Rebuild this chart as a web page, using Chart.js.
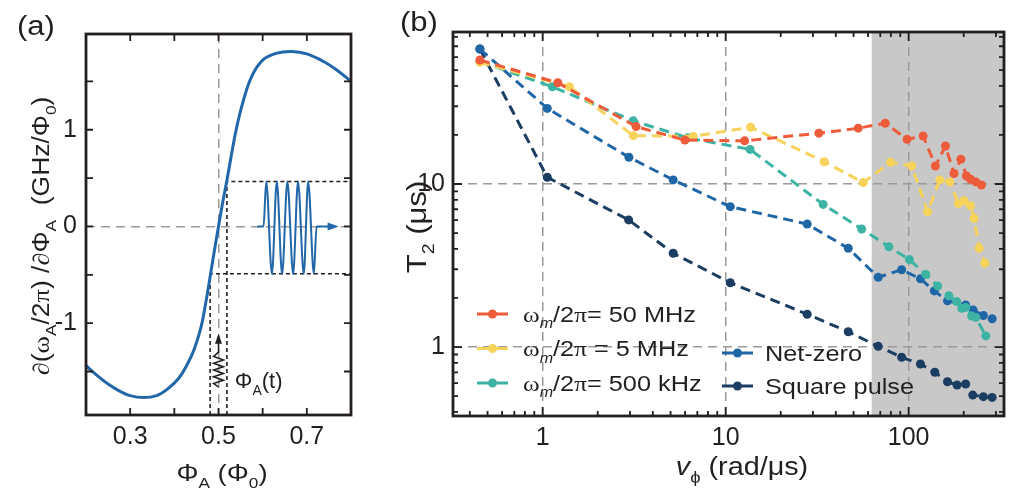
<!DOCTYPE html>
<html lang="en">
<head>
  <meta charset="UTF-8">
  <title>Flux sensitivity and T2 dephasing</title>
  <script src="https://cdn.jsdelivr.net/npm/chart.js"></script>
  <style>
    body { margin: 0; background: #fff; }
    #wrap { position: relative; width: 1017px; height: 498px; }
    #wrap canvas { position: absolute; top: 0; }
    #chartA { left: 0; }
    #chartB { left: 370px; }
  </style>
</head>
<body>
<div id="wrap">
  <canvas id="chartA" width="370" height="498"></canvas>
  <canvas id="chartB" width="647" height="498"></canvas>
</div>

<script>
  // ---- panel (a): d(omega_A/2pi)/dPhi_A vs Phi_A
  const phiA = [0.200, 0.225, 0.250, 0.275, 0.300, 0.330, 0.360, 0.385, 0.410, 0.430, 0.445, 0.460, 0.470, 0.480, 0.490,
                0.500, 0.510, 0.520, 0.530, 0.540, 0.555, 0.575, 0.600, 0.630, 0.665, 0.700, 0.740, 0.770, 0.800];
  const slopeA = [-1.44, -1.54, -1.63, -1.70, -1.75, -1.77, -1.75, -1.68, -1.57, -1.42, -1.27, -1.05, -0.82, -0.55, -0.27,
                  0.00, 0.26, 0.50, 0.76, 1.00, 1.28, 1.55, 1.72, 1.79, 1.81, 1.785, 1.70, 1.61, 1.50];

  // sketch of the modulated flux pulse (blue) and the flux noise spring (black)
  const pulseX = [0.588, 0.602, 0.608, 0.621, 0.632, 0.644, 0.656, 0.669, 0.680, 0.693, 0.703, 0.716, 0.722, 0.765];
  const pulseY = [0, 0, 0.465, -0.49, 0.465, -0.49, 0.465, -0.49, 0.465, -0.49, 0.465, -0.49, 0, 0];
  const springX = [0.500, 0.489, 0.511, 0.489, 0.511, 0.489, 0.511, 0.489, 0.511, 0.489, 0.500, 0.500];
  const springY = [-1.66, -1.625, -1.59, -1.555, -1.52, -1.485, -1.45, -1.415, -1.38, -1.345, -1.30, -1.14];
  const upperX = [0.519, 0.519, 0.8];
  const upperY = [-1.95, 0.465, 0.465];
  const lowerX = [0.481, 0.481, 0.8];
  const lowerY = [-1.95, -0.49, -0.49];

  // ---- panel (b): T2 vs v_phi
  const seriesNames = ['ω_*m/2π= 50 MHz', 'ω_*m/2π = 5 MHz', 'ω_*m/2π= 500 kHz', 'Net-zero', 'Square pulse'];

  const vRed = [0.454, 1.21, 3.24, 5.99, 12.7, 32.3, 53.0, 74.5, 98, 120, 140, 159, 177, 193, 207, 218, 233, 250];
  const t2Red = [57.6, 41.8, 22.5, 18.6, 18.4, 20.5, 22.0, 23.6, 18.8, 19.7, 12.9, 17.1, 11.6, 14.2, 11.2, 10.7, 10.3, 9.86];

  const vYellow = [0.454, 1.40, 3.13, 6.65, 13.7, 34.6, 56.5, 79.7, 104, 127, 148, 168, 187, 201, 218, 228, 243, 261];
  const t2Yellow = [55.8, 39.5, 19.8, 19.6, 22.3, 13.7, 10.2, 13.6, 12.9, 6.76, 10.6, 10.3, 7.6, 7.9, 7.36, 6.16, 4.03, 3.26];

  const vTeal = [0.454, 1.13, 3.13, 6.2, 13.6, 34.1, 55.4, 78, 101, 124, 144, 166, 183, 195, 205, 221, 233, 264];
  const t2Teal = [56.5, 39.5, 24.4, 19.2, 16.3, 7.5, 5.3, 4.12, 3.44, 2.79, 2.37, 2.06, 1.90, 1.73, 1.75, 1.55, 1.52, 1.17];

  const vNet = [0.454, 1.06, 2.96, 5.17, 10.6, 27.9, 46.8, 68.2, 91.6, 116, 138, 163, 205, 225, 256, 286];
  const t2Net = [67.3, 29.1, 14.6, 10.6, 7.26, 5.68, 4.03, 2.68, 2.98, 2.62, 2.21, 1.92, 1.81, 1.69, 1.56, 1.49];

  const vSquare = [0.454, 1.06, 2.95, 5.17, 10.6, 27.9, 46.8, 68.2, 91.6, 116, 139, 163, 184, 205, 224, 256, 286];
  const t2Square = [67.3, 11.0, 6.02, 3.76, 2.48, 1.59, 1.24, 1.01, 0.865, 0.787, 0.70, 0.612, 0.585, 0.593, 0.507, 0.496, 0.491];

  const shadeFrom = 62.8;   // start of grey band (rad/us)

  const FONT = '"Liberation Sans", Arial, sans-serif';
  const SERIF = '"Liberation Serif", "Times New Roman", serif';
  const INK = '#231f20';
  const GRID = '#9a9a9a';
  const colors = ['#EE5B3B', '#F6D35B', '#3DB4A3', '#1F66A6', '#1B3D62'];
  const curveBlue = '#2267A9';

  const pts = (xs, ys) => xs.map((x, i) => ({ x: x, y: ys[i] }));

  // '_' -> next char subscript, '*' -> next char italic; greek letters in serif
  function toParts(str) {
    const parts = [];
    let sub = false, it = false;
    for (const c of str) {
      if (c === '_') { sub = true; continue; }
      if (c === '*') { it = true; continue; }
      const r = 'ωπ∂'.includes(c);
      const last = parts[parts.length - 1];
      if (last && last.s === sub && last.i === it && last.r === r) last.t += c;
      else parts.push({ t: c, s: sub, i: it, r: r });
      sub = false; it = false;
    }
    return parts;
  }

  // the figure's lettering is a bit wider than Liberation Sans, hence the x stretch
  function rich(ctx, str, x, y, size, align, angle, stretch) {
    const parts = toParts(str);
    const sx = stretch || 1.15;
    const fontFor = p => (p.i ? 'italic ' : '') + (p.s ? Math.round(size * 0.64) : size) + 'px ' + (p.r ? SERIF : FONT);
    ctx.save();
    ctx.translate(x, y);
    if (angle) ctx.rotate(angle);
    ctx.scale(sx, 1);
    let w = 0;
    parts.forEach(p => { ctx.font = fontFor(p); p.w = ctx.measureText(p.t).width; w += p.w; });
    let cx = align === 'center' ? -w / 2 : 0;
    ctx.fillStyle = INK;
    ctx.textAlign = 'left';
    ctx.textBaseline = 'alphabetic';
    parts.forEach(p => {
      ctx.font = fontFor(p);
      ctx.fillText(p.t, cx, p.s ? size * 0.3 : 0);
      cx += p.w;
    });
    ctx.restore();
  }

  function frame(chart, xTicks, yTicks) {
    const ctx = chart.ctx, a = chart.chartArea;
    const xs = chart.scales.x, ys = chart.scales.y;
    ctx.save();
    ctx.strokeStyle = INK;
    ctx.lineWidth = 1.8;
    xTicks.forEach(([v, len]) => {
      const px = xs.getPixelForValue(v);
      ctx.beginPath();
      ctx.moveTo(px, a.bottom); ctx.lineTo(px, a.bottom - len);
      ctx.moveTo(px, a.top); ctx.lineTo(px, a.top + len);
      ctx.stroke();
    });
    yTicks.forEach(([v, len]) => {
      const py = ys.getPixelForValue(v);
      ctx.beginPath();
      ctx.moveTo(a.left, py); ctx.lineTo(a.left + len, py);
      ctx.moveTo(a.right, py); ctx.lineTo(a.right - len, py);
      ctx.stroke();
    });
    ctx.lineWidth = 2.8;
    ctx.strokeRect(a.left, a.top, a.right - a.left, a.bottom - a.top);
    ctx.restore();
  }

  // ----------------------------------------------------------------- chart (a)
  const dashedBlack = { borderColor: INK, borderWidth: 1.6, borderDash: [4, 3], pointRadius: 0, order: 4 };

  const panelA = {
    id: 'panelA',
    afterDraw(chart) {
      const ctx = chart.ctx;
      const xs = chart.scales.x, ys = chart.scales.y;
      frame(chart, [0.3, 0.4, 0.5, 0.6, 0.7].map(v => [v, 7]),
                   [-1.5, -1, -0.5, 0, 0.5, 1, 1.5].map(v => [v, 7]));

      // arrow heads
      ctx.save();
      let px = xs.getPixelForValue(0.772), py = ys.getPixelForValue(0);
      ctx.fillStyle = curveBlue;
      ctx.beginPath();
      ctx.moveTo(px, py); ctx.lineTo(px - 11, py - 4); ctx.lineTo(px - 11, py + 4); ctx.closePath();
      ctx.fill();
      px = xs.getPixelForValue(0.5); py = ys.getPixelForValue(-1.11);
      ctx.fillStyle = INK;
      ctx.beginPath();
      ctx.moveTo(px, py); ctx.lineTo(px - 3.5, py + 10); ctx.lineTo(px + 3.5, py + 10); ctx.closePath();
      ctx.fill();
      ctx.restore();

      rich(ctx, 'Φ_A(t)', xs.getPixelForValue(0.537), ys.getPixelForValue(-1.67), 22, 'left', 0, 1);
      rich(ctx, '(a)', 17, 35, 27, 'left');
      rich(ctx, 'Φ_A (Φ_0)', 222, 481, 24, 'center');
      rich(ctx, '∂(ω_A/2π) /∂Φ_A  (GHz/Φ_0)', 49, 236, 23, 'center', -Math.PI / 2);
    }
  };

  new Chart(document.getElementById('chartA'), {
    type: 'line',
    data: {
      datasets: [
        { data: pts(phiA, slopeA), borderColor: curveBlue, borderWidth: 3, pointRadius: 0, tension: 0.4, order: 1 },
        { data: pts(pulseX, pulseY), borderColor: curveBlue, borderWidth: 2, pointRadius: 0,
          cubicInterpolationMode: 'monotone', order: 2 },
        { data: pts(springX, springY), borderColor: INK, borderWidth: 1.6, pointRadius: 0, order: 3 },
        Object.assign({ data: pts(upperX, upperY) }, dashedBlack),
        Object.assign({ data: pts(lowerX, lowerY) }, dashedBlack)
      ]
    },
    options: {
      responsive: false,
      animation: false,
      layout: { padding: { top: 34, right: 19, left: 0, bottom: 0 } },
      plugins: { legend: { display: false }, tooltip: { enabled: false } },
      scales: {
        x: {
          type: 'linear', min: 0.2, max: 0.8, bounds: 'data',
          afterBuildTicks: s => { s.ticks = [0.3, 0.5, 0.7].map(v => ({ value: v })); },
          afterFit: s => { s.height = 83; },
          grid: { color: c => (c.tick && c.tick.value === 0.5) ? GRID : 'rgba(0,0,0,0)', lineWidth: 1.5, drawTicks: false },
          border: { display: false, dash: [9, 6] },
          ticks: { font: { family: FONT, size: 25 }, color: INK, padding: 7, maxRotation: 0, autoSkip: false,
                   callback: v => v.toFixed(1) }
        },
        y: {
          type: 'linear', min: -1.95, max: 1.99, bounds: 'data',
          afterBuildTicks: s => { s.ticks = [-1, 0, 1].map(v => ({ value: v })); },
          afterFit: s => { s.width = 86; },
          grid: { color: c => (c.tick && c.tick.value === 0) ? GRID : 'rgba(0,0,0,0)', lineWidth: 1.5, drawTicks: false },
          border: { display: false, dash: [9, 6] },
          ticks: { font: { family: FONT, size: 25 }, color: INK, padding: 9, callback: v => String(v) }
        }
      }
    },
    plugins: [panelA]
  });

  // ----------------------------------------------------------------- chart (b)
  const xMinor = [], yMinor = [];
  [0.1, 1, 10, 100].forEach(d => { for (let k = 2; k <= 9; k++) { xMinor.push(k * d); yMinor.push(k * d); } });

  const panelB = {
    id: 'panelB',
    beforeDraw(chart) {
      const ctx = chart.ctx, a = chart.chartArea;
      const x0 = chart.scales.x.getPixelForValue(shadeFrom);
      ctx.save();
      ctx.fillStyle = '#c8c8c8';
      ctx.fillRect(x0, a.top, a.right - x0, a.bottom - a.top);
      ctx.restore();
    },
    afterDraw(chart) {
      const ctx = chart.ctx;
      const xs = chart.scales.x, ys = chart.scales.y;
      const xT = [1, 10, 100].map(v => [v, 9]).concat(xMinor.filter(v => v > xs.min && v < xs.max).map(v => [v, 5]));
      const yT = [1, 10].map(v => [v, 9]).concat(yMinor.filter(v => v > ys.min && v < ys.max).map(v => [v, 5]));
      frame(chart, xT, yT);

      // legend, drawn by hand so the subscripts come out right
      const rows = [[107, 314, 0], [107, 348.5, 1], [107, 383, 2], [352, 353, 3], [352, 386, 4]];
      rows.forEach(([lx, ly, k]) => {
        ctx.save();
        ctx.strokeStyle = colors[k];
        ctx.fillStyle = colors[k];
        ctx.lineWidth = 3;
        ctx.beginPath(); ctx.moveTo(lx, ly); ctx.lineTo(lx + 31, ly); ctx.stroke();
        ctx.beginPath(); ctx.arc(lx + 15.5, ly, 4.5, 0, Math.PI * 2); ctx.fill();
        ctx.restore();
        rich(ctx, seriesNames[k], lx + (k < 3 ? 46 : 43), ly + 7.5, 22, 'left');
      });

      rich(ctx, '(b)', 30, 31, 27, 'left');
      rich(ctx, '*v_ϕ (rad/μs)', 372, 475, 25, 'center');
      rich(ctx, 'T_2 (μs)', 56, 227, 27, 'center', -Math.PI / 2);
    }
  };

  const series = [[vRed, t2Red], [vYellow, t2Yellow], [vTeal, t2Teal], [vNet, t2Net], [vSquare, t2Square]];

  new Chart(document.getElementById('chartB'), {
    type: 'line',
    data: {
      datasets: series.map(([xs, ys], k) => ({
        label: seriesNames[k],
        data: pts(xs, ys),
        borderColor: colors[k],
        backgroundColor: colors[k],
        borderWidth: 3,
        borderDash: [10, 6],
        pointRadius: 4.5,
        pointBorderWidth: 0,
        pointBackgroundColor: colors[k],
        order: k
      }))
    },
    options: {
      responsive: false,
      animation: false,
      layout: { padding: { top: 32, right: 13, left: 0, bottom: 0 } },
      plugins: { legend: { display: false }, tooltip: { enabled: false } },
      scales: {
        x: {
          type: 'logarithmic', min: 0.3236, max: 332, bounds: 'data',
          afterBuildTicks: s => { s.ticks = [1, 10, 100].map(v => ({ value: v })); },
          afterFit: s => { s.height = 82; },
          grid: { color: GRID, lineWidth: 1.5, drawTicks: false },
          border: { display: false, dash: [9, 6] },
          ticks: { font: { family: FONT, size: 25 }, color: INK, padding: 7, maxRotation: 0, autoSkip: false,
                   callback: v => String(v) }
        },
        y: {
          type: 'logarithmic', min: 0.3775, max: 85.6, bounds: 'data',
          afterBuildTicks: s => { s.ticks = [1, 10].map(v => ({ value: v })); },
          afterFit: s => { s.width = 83; },
          grid: { color: GRID, lineWidth: 1.5, drawTicks: false },
          border: { display: false, dash: [9, 6] },
          ticks: { font: { family: FONT, size: 25 }, color: INK, padding: 8, callback: v => String(v) }
        }
      }
    },
    plugins: [panelB]
  });
</script>
</body>
</html>
